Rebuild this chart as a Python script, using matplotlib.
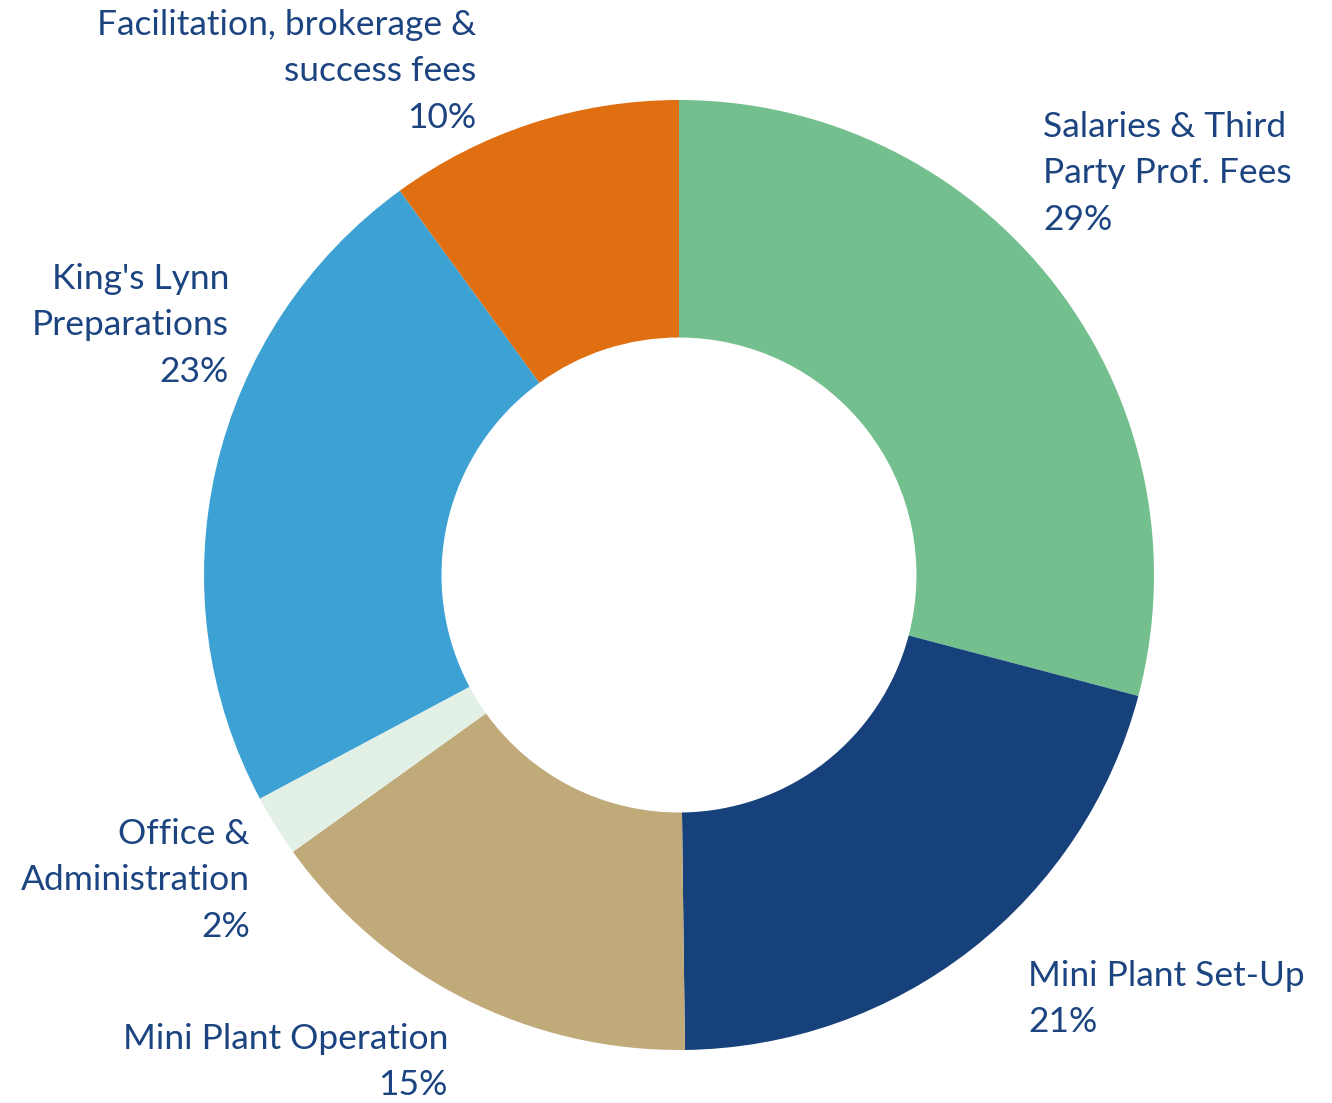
import numpy as np
import matplotlib.pyplot as plt

labels = ['Salaries & Third\nParty Prof. Fees', 'Mini Plant Set-Up', 'Mini Plant Operation',
          'Office &\nAdministration', "King's Lynn\nPreparations", 'Facilitation, brokerage &\nsuccess fees']
shares = [29.1, 20.7, 15.3, 2.1, 22.8, 10.0]
colors = ['#74bf8e', '#17417a', '#c0aa7a', '#e2f0e6', '#3da1d4', '#e06f12']

# label anchors in pixel coords (x, y from top) and alignment
label_pos = [(1043, 111, 'left'), (1028, 960, 'left'), (448, 1023, 'right'),
             (250, 818, 'right'), (229, 263, 'right'), (476, 9, 'right')]

W, H = 1332, 1103
fig = plt.figure(figsize=(W / 100, H / 100), dpi=100)
ax = fig.add_axes([0, 0, 1, 1])

cx, cy, r = 679, 575, 475
# y axis is inverted, so counterclock=True draws clockwise on screen
ax.pie(shares, colors=colors, center=(cx, cy), radius=r, startangle=-90,
       counterclock=True, wedgeprops=dict(width=r * 0.5, linewidth=0),
       frame=True)
ax.set_xlim(0, W)
ax.set_ylim(H, 0)
ax.set_aspect('equal')
ax.axis('off')

txt_color = '#1b4480'
for lab, v, (x, y, ha) in zip(labels, shares, label_pos):
    ax.text(x, y, f'{lab}\n{round(v)}%', ha=ha, va='top', color=txt_color,
            fontsize=25.5, family='Lato', linespacing=1.55, multialignment=ha)

fig.savefig('out.png', dpi=100)
